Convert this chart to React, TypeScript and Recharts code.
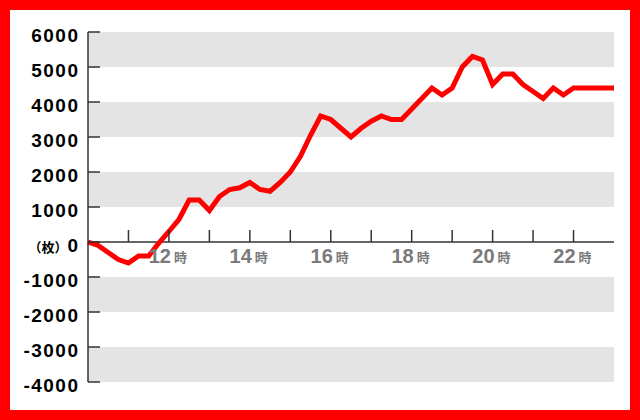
import { LineChart, Line, XAxis, YAxis, ReferenceArea, ReferenceLine } from 'recharts'

// 15-minute samples, 10:00 - 23:00
const TIMES = [
  '10:00', '10:15', '10:30', '10:45', '11:00', '11:15', '11:30', '11:45',
  '12:00', '12:15', '12:30', '12:45', '13:00', '13:15', '13:30', '13:45',
  '14:00', '14:15', '14:30', '14:45', '15:00', '15:15', '15:30', '15:45',
  '16:00', '16:15', '16:30', '16:45', '17:00', '17:15', '17:30', '17:45',
  '18:00', '18:15', '18:30', '18:45', '19:00', '19:15', '19:30', '19:45',
  '20:00', '20:15', '20:30', '20:45', '21:00', '21:15', '21:30', '21:45',
  '22:00', '22:15', '22:30', '22:45', '23:00',
]

const VALUES = [
  0, -100, -300, -500, -600, -400, -400, -30,
  300, 650, 1200, 1200, 900, 1300, 1500, 1550,
  1700, 1500, 1450, 1700, 2000, 2450, 3050, 3600,
  3500, 3250, 3000, 3250, 3450, 3600, 3500, 3500,
  3800, 4100, 4400, 4200, 4400, 5000, 5300, 5200,
  4500, 4800, 4800, 4500, 4300, 4100, 4400, 4200,
  4400, 4400, 4400, 4400, 4400,
]

const Y_TICKS = [-4000, -3000, -2000, -1000, 0, 1000, 2000, 3000, 4000, 5000, 6000]
const HOUR_TICKS = [11, 12, 13, 14, 15, 16, 17, 18, 19, 20, 21, 22]
const LABELED_HOURS = [12, 14, 16, 18, 20, 22]
const BANDS: [number, number][] = [
  [5000, 6000],
  [3000, 4000],
  [1000, 2000],
  [-2000, -1000],
  [-4000, -3000],
]

const Y_MIN = -4000
const Y_MAX = 6000

const data = TIMES.map((t, i) => {
  const [h, m] = t.split(':').map(Number)
  return { hour: h + m / 60, value: VALUES[i] }
})

const W = 620
const H = 400
const X_AXIS_H = 28
const MARGIN = { top: 22, right: 16, bottom: 0, left: 8 }
const PLOT_H = H - MARGIN.top - MARGIN.bottom - X_AXIS_H
const ZERO_Y = MARGIN.top + (PLOT_H * Y_MAX) / (Y_MAX - Y_MIN)

const AXIS = '#333'
const NUM_FONT = '"Liberation Sans", Arial, sans-serif'
const JP_FONT = '"Noto Sans CJK JP", sans-serif'

const HourTick = (props: any) => {
  const { x, payload } = props
  const h = payload.value
  const labeled = LABELED_HOURS.includes(h)
  return (
    <g>
      <line x1={x} x2={x} y1={ZERO_Y} y2={ZERO_Y - 12} stroke={AXIS} strokeWidth={1.5} />
      {labeled && (
        <>
          <text
            x={x + 2}
            y={ZERO_Y + 21}
            textAnchor="end"
            fill="#7a7a7a"
            fontFamily={NUM_FONT}
            fontWeight="bold"
            fontSize={20}
          >
            {h}
          </text>
          <text
            x={x + 5}
            y={ZERO_Y + 20}
            textAnchor="start"
            fill="#7a7a7a"
            fontFamily={JP_FONT}
            fontWeight="bold"
            fontSize={13}
          >
            時
          </text>
        </>
      )}
    </g>
  )
}

const ValueTick = (props: any) => {
  const { x, y, payload } = props
  const v = payload.value
  const axisX = x + 10
  return (
    <g>
      <line x1={axisX} x2={axisX + 12} y1={y} y2={y} stroke={AXIS} strokeWidth={1.5} />
      <text
        x={x + 1.5}
        y={y + 9.5}
        textAnchor="end"
        fill="#000"
        fontFamily={NUM_FONT}
        fontWeight="bold"
        fontSize={19}
        letterSpacing={1.5}
      >
        {v === 0 && (
          <tspan fontFamily={JP_FONT} fontSize={13} letterSpacing={0}>
            （枚）
          </tspan>
        )}
        <tspan>{v}</tspan>
      </text>
    </g>
  )
}

export default function App() {
  return (
    <div
      style={{
        position: 'fixed',
        left: 0,
        top: 0,
        width: 640,
        height: 420,
        boxSizing: 'border-box',
        border: '10px solid #ff0000',
        background: '#fff',
      }}
    >
      <LineChart width={W} height={H} data={data} margin={MARGIN}>
        {BANDS.map(([y1, y2]) => (
          <ReferenceArea key={y1} y1={y1} y2={y2} fill="#e4e4e4" fillOpacity={1} stroke="none" />
        ))}
        <ReferenceLine y={0} stroke={AXIS} strokeWidth={1.5} />
        <XAxis
          dataKey="hour"
          type="number"
          domain={[10, 23]}
          ticks={HOUR_TICKS}
          interval={0}
          height={X_AXIS_H}
          axisLine={false}
          tickLine={false}
          tick={<HourTick />}
        />
        <YAxis
          type="number"
          domain={[Y_MIN, Y_MAX]}
          ticks={Y_TICKS}
          interval={0}
          width={70}
          tickSize={0}
          tickMargin={10}
          axisLine={{ stroke: AXIS, strokeWidth: 1.5 }}
          tickLine={false}
          tick={<ValueTick />}
        />
        <Line
          type="linear"
          dataKey="value"
          stroke="#ff0000"
          strokeWidth={5}
          dot={false}
          isAnimationActive={false}
        />
      </LineChart>
    </div>
  )
}
